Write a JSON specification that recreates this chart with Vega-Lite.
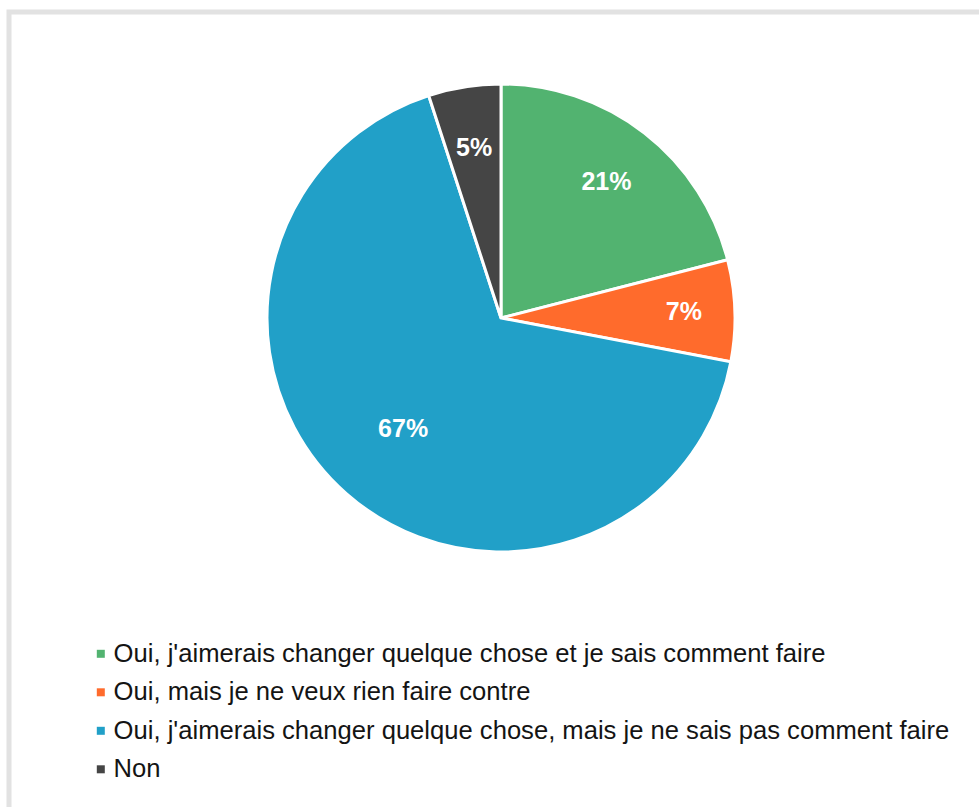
{
  "$schema": "https://vega.github.io/schema/vega-lite/v6.json",
  "autosize": {"type": "none"},
  "width": 980,
  "height": 805,
  "padding": {"left": 9, "top": 12, "right": -10, "bottom": -10},
  "background": "white",
  "config": {
    "view": {"stroke": "#E2E2E2", "strokeWidth": 5},
    "font": "Liberation Sans"
  },
  "data": {
    "values": [
      {"rang": 1, "reponse": "Oui, j'aimerais changer quelque chose et je sais comment faire", "part": 0.21},
      {"rang": 2, "reponse": "Oui, mais je ne veux rien faire contre", "part": 0.07},
      {"rang": 3, "reponse": "Oui, j'aimerais changer quelque chose, mais je ne sais pas comment faire", "part": 0.67},
      {"rang": 4, "reponse": "Non", "part": 0.05}
    ]
  },
  "encoding": {
    "theta": {"field": "part", "type": "quantitative", "stack": true},
    "order": {"field": "rang", "type": "quantitative"},
    "x": {"value": 492},
    "y": {"value": 306}
  },
  "layer": [
    {
      "mark": {"type": "arc", "outerRadius": 234, "stroke": "white", "strokeWidth": 3},
      "encoding": {
        "color": {
          "field": "reponse",
          "type": "nominal",
          "sort": null,
          "scale": {
            "domain": [
              "Oui, j'aimerais changer quelque chose et je sais comment faire",
              "Oui, mais je ne veux rien faire contre",
              "Oui, j'aimerais changer quelque chose, mais je ne sais pas comment faire",
              "Non"
            ],
            "range": ["#52B370", "#FF6B2C", "#21A0C8", "#454545"]
          },
          "legend": {
            "title": null,
            "orient": "none",
            "legendX": 79,
            "legendY": 629,
            "padding": 0,
            "symbolType": "square",
            "symbolSize": 64,
            "symbolStrokeWidth": 0,
            "labelFontSize": 25.6,
            "labelColor": "#141414",
            "labelOffset": 0,
            "labelLimit": 1000,
            "rowPadding": 11.5
          }
        }
      }
    },
    {
      "mark": {"type": "text", "radius": 172, "fontSize": 25, "fontWeight": "bold", "fill": "white"},
      "encoding": {
        "opacity": {"condition": {"test": "datum.rang == 1 || datum.rang == 4", "value": 1}, "value": 0},
        "text": {"field": "part", "type": "quantitative", "format": ".0%"}
      }
    },
    {
      "mark": {"type": "text", "radius": 183, "fontSize": 25, "fontWeight": "bold", "fill": "white"},
      "encoding": {
        "opacity": {"condition": {"test": "datum.rang == 2", "value": 1}, "value": 0},
        "text": {"field": "part", "type": "quantitative", "format": ".0%"}
      }
    },
    {
      "mark": {"type": "text", "radius": 148, "fontSize": 25, "fontWeight": "bold", "fill": "white"},
      "encoding": {
        "opacity": {"condition": {"test": "datum.rang == 3", "value": 1}, "value": 0},
        "text": {"field": "part", "type": "quantitative", "format": ".0%"}
      }
    }
  ]
}
